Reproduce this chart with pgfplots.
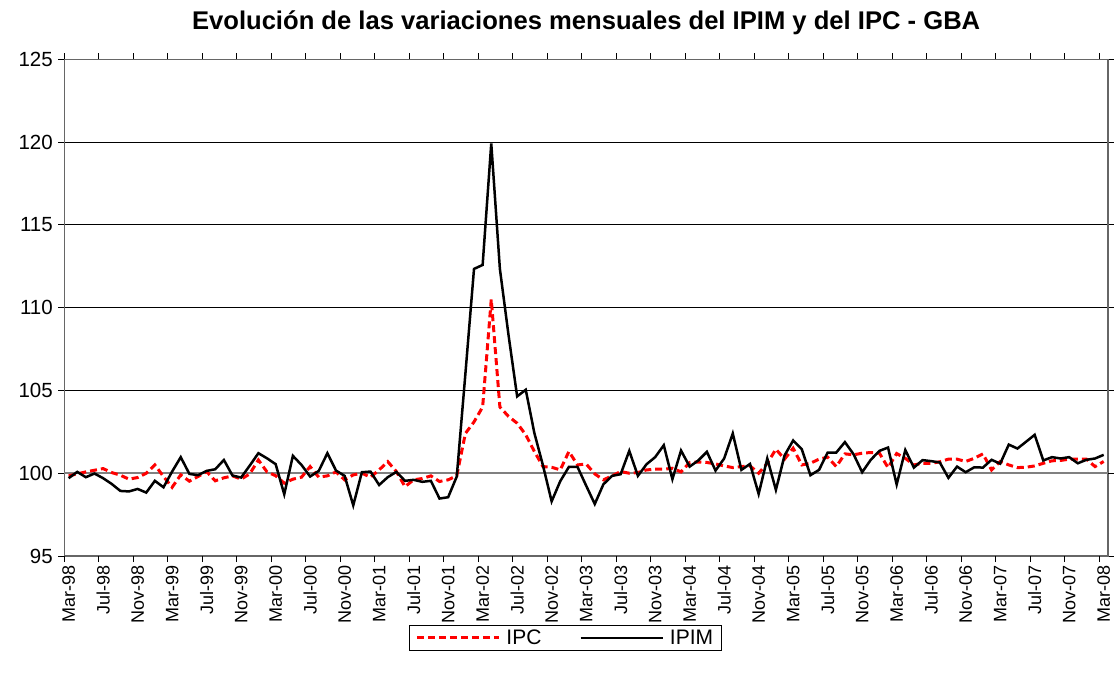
\documentclass[border=0pt]{standalone}
\usepackage{pgfplots}
\pgfplotsset{compat=1.18}
\usepackage{pgfplotstable}
\usepackage{fontspec}
\setmainfont{Liberation Sans}
\pgfplotstableread{
i ipc ipim
0 99.84 99.70
1 99.96 100.08
2 100.08 99.76
3 100.18 99.98
4 100.28 99.70
5 100.04 99.35
6 99.88 98.93
7 99.64 98.90
8 99.74 99.05
9 100.00 98.83
10 100.50 99.54
11 99.80 99.15
12 99.15 100.10
13 99.90 100.97
14 99.52 99.96
15 99.80 99.88
16 100.10 100.14
17 99.54 100.24
18 99.72 100.80
19 99.84 99.86
20 99.64 99.74
21 99.96 100.46
22 100.80 101.21
23 100.08 100.90
24 99.85 100.55
25 99.40 98.73
26 99.64 101.05
27 99.76 100.50
28 100.40 99.80
29 99.76 100.14
30 99.84 101.21
31 100.08 100.16
32 99.60 99.84
33 99.90 98.06
34 100.00 100.06
35 99.76 100.10
36 100.20 99.29
37 100.70 99.76
38 100.10 100.08
39 99.19 99.54
40 99.60 99.60
41 99.68 99.48
42 99.84 99.54
43 99.50 98.47
44 99.60 98.55
45 99.85 99.80
46 102.40 106.00
47 103.10 112.34
48 104.00 112.58
49 110.50 119.92
50 104.00 112.34
51 103.43 108.35
52 103.02 104.64
53 102.32 105.04
54 101.31 102.42
55 100.40 100.46
56 100.36 98.30
57 100.20 99.52
58 101.31 100.38
59 100.50 100.38
60 100.56 99.25
61 99.96 98.14
62 99.60 99.33
63 99.84 99.84
64 100.10 99.94
65 100.00 101.35
66 100.04 99.84
67 100.20 100.54
68 100.24 100.97
69 100.24 101.69
70 100.30 99.64
71 100.08 101.37
72 100.65 100.40
73 100.67 100.77
74 100.65 101.29
75 100.56 100.16
76 100.44 100.89
77 100.34 102.40
78 100.40 100.20
79 100.44 100.56
80 100.00 98.75
81 100.60 100.89
82 101.45 98.99
83 100.85 101.07
84 101.51 101.98
85 100.50 101.45
86 100.60 99.88
87 100.85 100.20
88 100.97 101.25
89 100.40 101.25
90 101.17 101.88
91 101.11 101.15
92 101.21 100.06
93 101.25 100.81
94 101.21 101.35
95 100.34 101.55
96 101.19 99.32
97 100.90 101.40
98 100.50 100.34
99 100.60 100.79
100 100.60 100.73
101 100.69 100.65
102 100.85 99.72
103 100.85 100.40
104 100.71 100.06
105 100.90 100.36
106 101.17 100.34
107 100.20 100.81
108 100.71 100.58
109 100.50 101.73
110 100.34 101.49
111 100.36 101.90
112 100.44 102.32
113 100.60 100.77
114 100.75 100.97
115 100.77 100.89
116 100.85 100.97
117 100.85 100.60
118 100.85 100.81
119 100.40 100.89
120 100.71 101.11
}\datatable
\begin{document}
\begin{tikzpicture}
\useasboundingbox (0,0) rectangle (1114pt,675pt);
\begin{axis}[
  at={(64.3pt,119pt)}, anchor=south west,
  scale only axis, width=1043.7pt, height=496.7pt,
  xmin=-0.5, xmax=120.5, ymin=95, ymax=125,
  ytick={95,100,...,125},
  ymajorgrids, grid style={black, line width=0.9pt},
  axis line style={draw=black!60, line width=1.5pt},
  tick align=outside, major tick length=6pt,
  tick style={black, line width=1pt},
  xtick={0,4,...,120},
  xticklabels={Mar-98,Jul-98,Nov-98,Mar-99,Jul-99,Nov-99,Mar-00,Jul-00,Nov-00,Mar-01,Jul-01,Nov-01,Mar-02,Jul-02,Nov-02,Mar-03,Jul-03,Nov-03,Mar-04,Jul-04,Nov-04,Mar-05,Jul-05,Nov-05,Mar-06,Jul-06,Nov-06,Mar-07,Jul-07,Nov-07,Mar-08},
  x tick style={draw=none},
  extra x ticks={-0.5,3.5,...,119.5},
  extra x tick labels={},
  extra x tick style={x tick style={draw=black, line width=1pt}, grid=none},
  extra y ticks={100},
  extra y tick labels={},
  extra y tick style={grid style={draw=black!50, line width=1.8pt}},
  x tick label style={rotate=90, anchor=east, font=\fontsize{18}{20}\selectfont},
  y tick label style={font=\fontsize{20.5}{23}\selectfont, xshift=-2pt},
  /pgf/number format/assume math mode=true,
  title={Evolución de las variaciones mensuales del IPIM y del IPC - GBA},
  title style={at={(0.5,1)}, anchor=center, yshift=31pt, font=\bfseries\fontsize{25.6}{29}\selectfont},
  legend columns=2,
  legend style={at={(0.48,-0.165)}, anchor=center, draw=black, line width=0.8pt,
    font=\fontsize{21}{24}\selectfont, inner xsep=6pt, inner ysep=2pt,
    /tikz/every even column/.append style={column sep=36pt},
    /tikz/every odd column/.append style={}},
  legend image code/.code={\draw[#1] (0pt,0pt) -- (82pt,0pt);},
  legend cell align=left,
]
\addplot[red, line width=3pt, dash pattern=on 7pt off 4pt] table[x=i, y=ipc] {\datatable};
\addlegendentry{\hspace{4pt}IPC}
\addplot[black, line width=2.5pt] table[x=i, y=ipim] {\datatable};
\addlegendentry{\hspace{4pt}IPIM}
\end{axis}
\end{tikzpicture}
\end{document}
